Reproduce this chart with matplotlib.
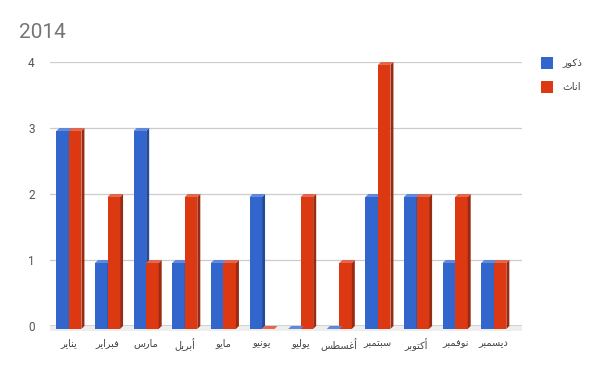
import matplotlib
matplotlib.use("Agg")
import matplotlib.pyplot as plt
from matplotlib.patches import Polygon, Rectangle
import numpy as np

title = "2014"
months = ["يناير", "فبراير", "مارس", "أبريل", "مايو", "يونيو",
          "يوليو", "أغسطس", "سبتمبر", "أكتوبر", "نوفمبر", "ديسمبر"]
series_names = ["ذكور", "اناث"]
males = [3, 1, 3, 1, 1, 2, 0, 0, 2, 2, 1, 1]
females = [3, 2, 1, 2, 1, 0, 2, 1, 4, 2, 2, 1]

# minimal arabic shaping (matplotlib has no text shaping / bidi)
FORMS = {
    "ا": (0xFE8D, 0xFE8E, None, None), "أ": (0xFE83, 0xFE84, None, None),
    "ب": (0xFE8F, 0xFE90, 0xFE91, 0xFE92), "ت": (0xFE95, 0xFE96, 0xFE97, 0xFE98),
    "ث": (0xFE99, 0xFE9A, 0xFE9B, 0xFE9C), "د": (0xFEA9, 0xFEAA, None, None),
    "ذ": (0xFEAB, 0xFEAC, None, None), "ر": (0xFEAD, 0xFEAE, None, None),
    "س": (0xFEB1, 0xFEB2, 0xFEB3, 0xFEB4), "ط": (0xFEC1, 0xFEC2, 0xFEC3, 0xFEC4),
    "غ": (0xFECD, 0xFECE, 0xFECF, 0xFED0), "ف": (0xFED1, 0xFED2, 0xFED3, 0xFED4),
    "ك": (0xFED9, 0xFEDA, 0xFEDB, 0xFEDC), "ل": (0xFEDD, 0xFEDE, 0xFEDF, 0xFEE0),
    "م": (0xFEE1, 0xFEE2, 0xFEE3, 0xFEE4), "ن": (0xFEE5, 0xFEE6, 0xFEE7, 0xFEE8),
    "و": (0xFEED, 0xFEEE, None, None), "ي": (0xFEF1, 0xFEF2, 0xFEF3, 0xFEF4),
}


def shape(word):
    out = []
    for i, ch in enumerate(word):
        f = FORMS.get(ch)
        if f is None:
            out.append(ch)
            continue
        prev_joins = i > 0 and FORMS.get(word[i - 1], (0, 0, None))[2] is not None
        next_exists = i < len(word) - 1 and word[i + 1] in FORMS
        can_join_next = f[2] is not None and next_exists
        if prev_joins and can_join_next:
            code = f[3]
        elif prev_joins:
            code = f[1]
        elif can_join_next:
            code = f[2]
        else:
            code = f[0]
        out.append(chr(code))
    return "".join(out[::-1])


colors = ["#3366cc", "#dc3912"]
sides = ["#244b99", "#9c2a12"]
tops = ["#5f87db", "#e3664c"]

fig = plt.figure(figsize=(6, 3.71), dpi=100)
ax = fig.add_axes([0.0833, 0.1213, 0.7867, 0.7116])

x = np.arange(len(months))
w = 0.324
dx, dy = 0.078, 0.045

# light floor under the baseline
ax.add_patch(Rectangle((0, -0.075), 1, 0.075, transform=ax.get_yaxis_transform(),
                       color="#eeeeee", lw=0, clip_on=False, zorder=1))

for k, vals in enumerate([males, females]):
    xs = x - w + k * w
    for xi, v in zip(xs, vals):
        z = 3 + k
        if v > 0:
            ax.add_patch(Rectangle((xi, -dy), w, v, color=colors[k], lw=0,
                                   zorder=z, clip_on=False))
            ax.add_patch(Polygon([(xi + w, -dy), (xi + w + dx, 0), (xi + w + dx, v),
                                  (xi + w, v - dy)], closed=True, color=sides[k],
                                 lw=0, zorder=z, clip_on=False))
            zt = z
        else:
            zt = 6
        ax.add_patch(Polygon([(xi, v - dy), (xi + dx, v), (xi + w + dx, v), (xi + w, v - dy)],
                             closed=True, color=tops[k], lw=0, zorder=zt, clip_on=False))

ax.set_xlim(-0.49, 11.73)
ax.set_ylim(0, 4)
ax.set_yticks([0, 1, 2, 3, 4])
ax.yaxis.grid(True, color="#cccccc", lw=0.9, zorder=0)
ax.axhline(0, color="#333333", lw=1.0, zorder=2)
for s in ax.spines.values():
    s.set_visible(False)
ax.tick_params(length=0)
ax.tick_params(axis="y", labelsize=8.5, labelcolor="#555555", pad=11)
ax.set_xticks(x)
ax.set_xticklabels([shape(m) for m in months], fontsize=7, color="#444444",
                   family="DejaVu Sans")
ax.tick_params(axis="x", pad=9)
for lbl in ax.get_yticklabels():
    lbl.set_family("Roboto")

fig.text(19 / 600, 1 - 38 / 371, title, fontsize=15, color="#757575",
         family="Roboto", va="baseline")

# legend on the right
for k, name in enumerate(series_names):
    top_px = 57 + 24 * k
    fig.patches.append(Rectangle((541 / 600, 1 - (top_px + 12) / 371), 12 / 600, 12 / 371,
                                 transform=fig.transFigure, color=colors[k], lw=0))
    fig.text(562 / 600, 1 - (top_px + 6) / 371, shape(name), fontsize=7.5,
             color="#444444", family="DejaVu Sans", va="center", ha="left")

fig.savefig("out.png", dpi=100)
